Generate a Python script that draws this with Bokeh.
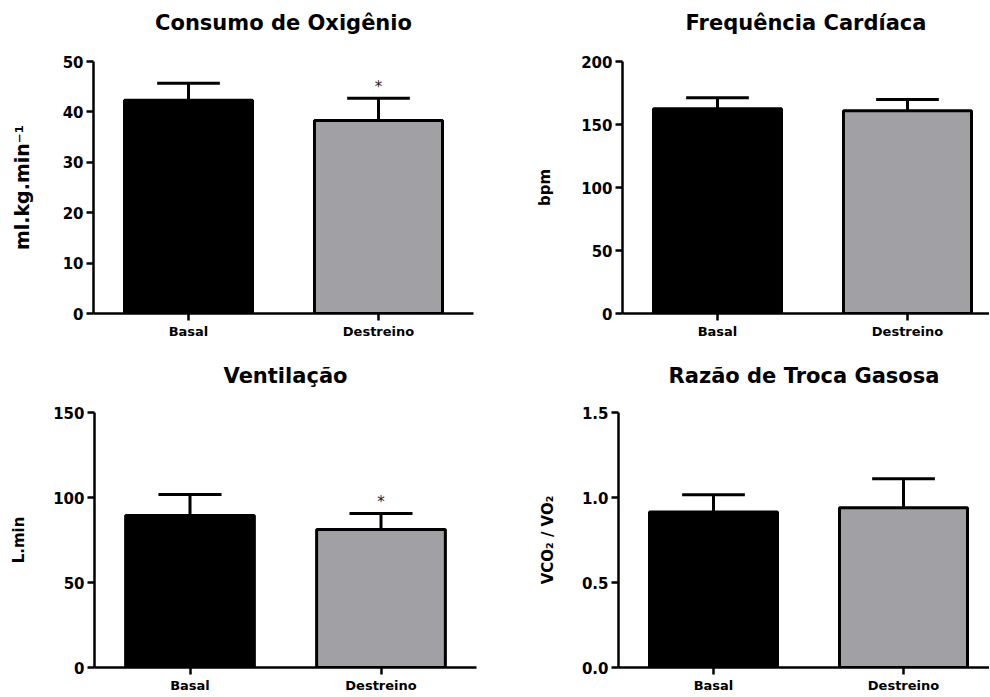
from bokeh.plotting import figure
from bokeh.layouts import column, row
from bokeh.models import Range1d, FixedTicker, ColumnDataSource, NumeralTickFormatter, Title
from bokeh.embed import file_html
from bokeh.resources import INLINE
from bokeh.core.properties import value

# ---------------- data ----------------
groups = ["Basal", "Destreino"]
bar_colors = ["#000000", "#a0a0a5"]

vo2_mean = [42.3, 38.3]
vo2_upper = [45.7, 42.7]
vo2_sig = ["", "*"]

fc_mean = [162.5, 161.0]
fc_upper = [171.3, 169.8]
fc_sig = ["", ""]

ve_mean = [89.4, 81.2]
ve_upper = [101.8, 90.6]
ve_sig = ["", "*"]

rer_mean = [0.915, 0.939]
rer_upper = [1.016, 1.11]
rer_sig = ["", ""]

vo2_ticks = [0, 10, 20, 30, 40, 50]
fc_ticks = [0, 50, 100, 150, 200]
ve_ticks = [0, 50, 100, 150]
rer_ticks = [0.0, 0.5, 1.0, 1.5]

FONT = "DejaVu Sans"
PX_PER_UNIT = 190.0


def panel(mean, upper, sig, title, ylabel, ylabel_size, yticks, fmt,
          width, height, bl, br, bt, bb, label_standoff, title_gap):
    frame_w = width - bl - br
    x_end = frame_w / PX_PER_UNIT if br == 0 else 2.0
    p = figure(width=width, height=height, output_backend="svg",
               toolbar_location=None, tools="",
               x_range=Range1d(0, x_end), y_range=Range1d(yticks[0], yticks[-1]),
               min_border_left=bl, min_border_right=br,
               min_border_top=bt, min_border_bottom=bb)
    p.outline_line_color = None
    p.xgrid.visible = False
    p.ygrid.visible = False
    p.background_fill_color = "white"
    p.border_fill_color = "white"

    # blank spacer between the frame and the title
    p.add_layout(Title(text=" ", text_font_size="1px", standoff=title_gap), "above")
    p.title = Title(text=title, align="center", vertical_align="top",
                    standoff=0, text_font=FONT,
                    text_font_size="21px", text_font_style="bold",
                    text_color="black")

    xs = [i + 0.5 for i in range(len(groups))]
    src = ColumnDataSource(dict(x=xs, mean=mean, upper=upper, sig=sig,
                                color=bar_colors, base=[yticks[0]] * len(xs)))
    # error bars (upper only)
    p.segment(x0="x", y0="mean", x1="x", y1="upper", source=src,
              line_color="black", line_width=3)
    cap = 0.33
    capsrc = ColumnDataSource(dict(x0=[x - cap / 2 for x in xs], x1=[x + cap / 2 for x in xs],
                                   y=upper))
    p.segment(x0="x0", y0="y", x1="x1", y1="y", source=capsrc,
              line_color="black", line_width=3)
    p.vbar(x="x", width=0.674, top="mean", bottom="base", source=src,
           fill_color="color", line_color="black", line_width=3)
    p.text(x="x", y="upper", text="sig", source=src, text_align="center",
           text_baseline="middle", y_offset=-11, text_font=value(FONT),
           text_font_size="15px", text_color="#222222")

    # axes
    for ax in (p.xaxis[0], p.yaxis[0]):
        ax.axis_line_width = 2.5
        ax.axis_line_color = "black"
        ax.major_tick_line_width = 2.5
        ax.major_tick_line_color = "black"
        ax.major_tick_out = 7
        ax.major_tick_in = 0
        ax.minor_tick_line_color = None
        ax.major_label_text_font = FONT
        ax.major_label_text_font_style = "bold"
        ax.major_label_text_color = "black"
        ax.major_label_standoff = 3

    p.xaxis.ticker = FixedTicker(ticks=xs)
    p.xaxis.major_label_overrides = {x: g for x, g in zip(xs, groups)}
    p.xaxis.major_label_text_font_size = "13px"

    p.yaxis.ticker = FixedTicker(ticks=yticks)
    p.yaxis.major_label_text_font_size = "15px"
    if fmt:
        p.yaxis.formatter = NumeralTickFormatter(format=fmt)
    p.yaxis.axis_label = ylabel
    p.yaxis.axis_label_text_font = FONT
    p.yaxis.axis_label_text_font_style = "bold"
    p.yaxis.axis_label_text_font_size = ylabel_size
    p.yaxis.axis_label_text_color = "black"
    p.yaxis.axis_label_standoff = label_standoff
    return p


p1 = panel(vo2_mean, vo2_upper, vo2_sig, "Consumo de Oxigênio", "ml.kg.min⁻¹", "19px",
           vo2_ticks, None, 500, 345, 93, 27, 61, 32, 27, 22)
p2 = panel(fc_mean, fc_upper, fc_sig, "Frequência Cardíaca", "bpm", "15px",
           fc_ticks, None, 489, 345, 122, 0, 61, 32, 24, 22)
p3 = panel(ve_mean, ve_upper, ve_sig, "Ventilação", "L.min", "15px",
           ve_ticks, None, 500, 351, 94, 24, 67, 29, 22, 20)
p4 = panel(rer_mean, rer_upper, rer_sig, "Razão de Troca Gasosa", "VCO₂ / VO₂", "15px",
           rer_ticks, "0.0", 489, 351, 118, 0, 67, 29, 22, 20)

layout = column(row(p1, p2), row(p3, p4))
open("out.html", "w").write(file_html(layout, INLINE))
